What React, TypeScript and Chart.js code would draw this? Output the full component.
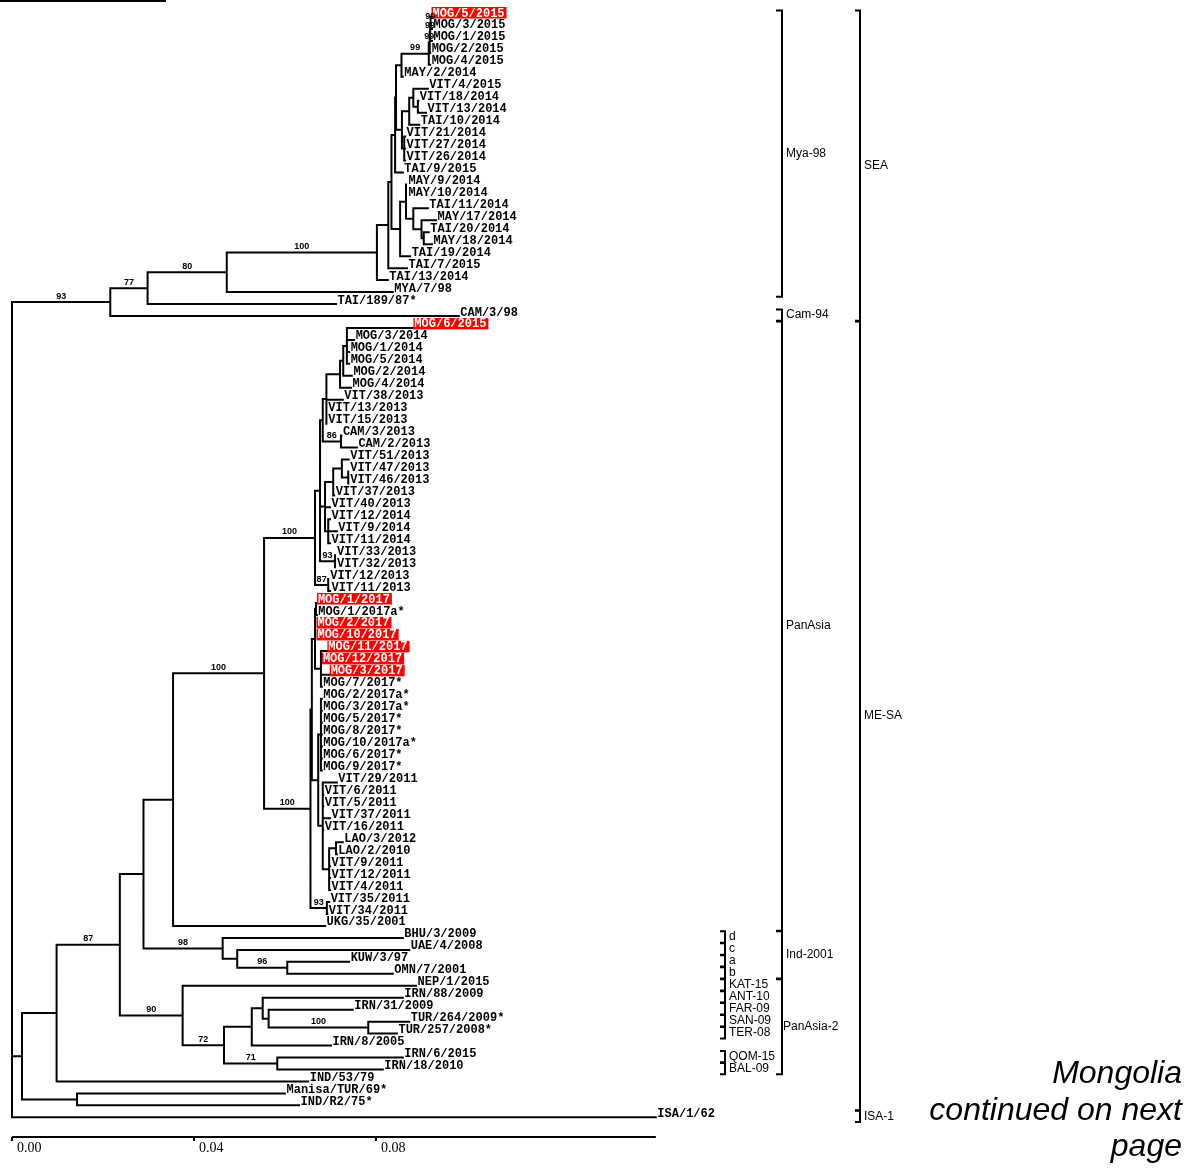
import React, { useEffect, useRef } from 'react';
import { Chart, registerables } from 'chart.js';

Chart.register(...registerables);

// ---------------- data ----------------
const leafNames: string[] = [
  'MOG/5/2015', 'MOG/3/2015', 'MOG/1/2015', 'MOG/2/2015', 'MOG/4/2015', 'MAY/2/2014', 'VIT/4/2015', 'VIT/18/2014', 'VIT/13/2014', 'TAI/10/2014',
  'VIT/21/2014', 'VIT/27/2014', 'VIT/26/2014', 'TAI/9/2015', 'MAY/9/2014', 'MAY/10/2014', 'TAI/11/2014', 'MAY/17/2014', 'TAI/20/2014', 'MAY/18/2014',
  'TAI/19/2014', 'TAI/7/2015', 'TAI/13/2014', 'MYA/7/98', 'TAI/189/87*', 'CAM/3/98', 'MOG/6/2015', 'MOG/3/2014', 'MOG/1/2014', 'MOG/5/2014',
  'MOG/2/2014', 'MOG/4/2014', 'VIT/38/2013', 'VIT/13/2013', 'VIT/15/2013', 'CAM/3/2013', 'CAM/2/2013', 'VIT/51/2013', 'VIT/47/2013', 'VIT/46/2013',
  'VIT/37/2013', 'VIT/40/2013', 'VIT/12/2014', 'VIT/9/2014', 'VIT/11/2014', 'VIT/33/2013', 'VIT/32/2013', 'VIT/12/2013', 'VIT/11/2013', 'MOG/1/2017',
  'MOG/1/2017a*', 'MOG/2/2017', 'MOG/10/2017', 'MOG/11/2017', 'MOG/12/2017', 'MOG/3/2017', 'MOG/7/2017*', 'MOG/2/2017a*', 'MOG/3/2017a*', 'MOG/5/2017*',
  'MOG/8/2017*', 'MOG/10/2017a*', 'MOG/6/2017*', 'MOG/9/2017*', 'VIT/29/2011', 'VIT/6/2011', 'VIT/5/2011', 'VIT/37/2011', 'VIT/16/2011', 'LAO/3/2012',
  'LAO/2/2010', 'VIT/9/2011', 'VIT/12/2011', 'VIT/4/2011', 'VIT/35/2011', 'VIT/34/2011', 'UKG/35/2001', 'BHU/3/2009', 'UAE/4/2008', 'KUW/3/97',
  'OMN/7/2001', 'NEP/1/2015', 'IRN/88/2009', 'IRN/31/2009', 'TUR/264/2009*', 'TUR/257/2008*', 'IRN/8/2005', 'IRN/6/2015', 'IRN/18/2010', 'IND/53/79',
  'Manisa/TUR/69*', 'IND/R2/75*', 'ISA/1/62',
];

// distance from the root to each leaf tip
const leafDistances: number[] = [
  0.0921, 0.0923, 0.0923, 0.0919, 0.0919, 0.0859, 0.0914, 0.0893, 0.0910, 0.0895,
  0.0864, 0.0864, 0.0864, 0.0859, 0.0868, 0.0868, 0.0914, 0.0932, 0.0916, 0.0923,
  0.0875, 0.0868, 0.0826, 0.0837, 0.0712, 0.0982, 0.0881, 0.0752, 0.0741, 0.0741,
  0.0747, 0.0745, 0.0727, 0.0692, 0.0692, 0.0724, 0.0758, 0.0740, 0.0740, 0.0740,
  0.0708, 0.0699, 0.0699, 0.0714, 0.0699, 0.0711, 0.0711, 0.0696, 0.0699, 0.0669,
  0.0670, 0.0668, 0.0668, 0.0692, 0.0680, 0.0697, 0.0681, 0.0681, 0.0681, 0.0681,
  0.0681, 0.0681, 0.0681, 0.0681, 0.0714, 0.0684, 0.0684, 0.0699, 0.0684, 0.0727,
  0.0714, 0.0699, 0.0699, 0.0699, 0.0697, 0.0693, 0.0688, 0.0859, 0.0873, 0.0741,
  0.0837, 0.0888, 0.0859, 0.0749, 0.0873, 0.0846, 0.0701, 0.0859, 0.0815, 0.0651,
  0.0600, 0.0631, 0.1415,
];

const highlightedLeaves: string[] = [
  'MOG/5/2015', 'MOG/6/2015', 'MOG/1/2017', 'MOG/2/2017', 'MOG/10/2017', 'MOG/11/2017', 'MOG/12/2017', 'MOG/3/2017',
];

// internal nodes: [id, distance from root, bootstrap, children (leaf index or node id)]
type NodeRow = [string, number, string, (number | string)[]];
const internalNodes: NodeRow[] = [
  ['root', 0, '', ['n93', 'n22', 92]],
  ['n93', 0.0216, '93', ['n77', 25]],
  ['n77', 0.0298, '77', ['n80', 24]],
  ['n80', 0.0472, '80', ['n376', 23]],
  ['n376', 0.0802, '100', ['nA388', 22]],
  ['nA388', 0.0827, '', ['nA', 21]],
  ['nA', 0.0834, '', ['nH', 'nC']],
  ['nH', 0.0842, '', ['nJ', 13]],
  ['nJ', 0.0844, '', ['nMAY', 'nK']],
  ['nMAY', 0.0856, '', ['nMOG4', 5]],
  ['nMOG4', 0.0916, '99', ['nMOG3', 4]],
  ['nMOG3', 0.0918, '99', ['nMOG2', 3]],
  ['nMOG2', 0.0919, '99', ['nMOG1', 2]],
  ['nMOG1', 0.0920, '99', [0, 1]],
  ['nK', 0.0857, '', ['n409', 'nVIT']],
  ['n409', 0.0873, '', ['n413', 9]],
  ['n413', 0.0882, '', [6, 'n419']],
  ['n419', 0.0892, '', [7, 8]],
  ['nVIT', 0.0862, '', [10, 11, 12]],
  ['nC', 0.0853, '', ['nD', 20]],
  ['nD', 0.0866, '', [14, 15, 'nE']],
  ['nE', 0.0882, '', [16, 'nF']],
  ['nF', 0.0900, '', [17, 'nG']],
  ['nG', 0.0905, '', [18, 19]],
  ['n22', 0.0022, '', ['n87a', 'nM']],
  ['nM', 0.0143, '', [90, 91]],
  ['n87a', 0.0098, '', ['n120', 89]],
  ['n120', 0.0237, '87', ['n143', 'n90']],
  ['n143', 0.0289, '', ['n173', 'n98']],
  ['n98', 0.0463, '98', [77, 'n237']],
  ['n237', 0.0495, '', [78, 'n96']],
  ['n96', 0.0605, '96', [79, 80]],
  ['n90', 0.0375, '90', [81, 'n72']],
  ['n72', 0.0466, '72', ['n251', 'n71']],
  ['n251', 0.0527, '', ['n262', 86]],
  ['n262', 0.0551, '', [82, 'n268']],
  ['n268', 0.0564, '', [83, 'n100t']],
  ['n100t', 0.0783, '100', [84, 85]],
  ['n71', 0.0583, '71', [87, 88]],
  ['n173', 0.0354, '', ['n264', 76]],
  ['n264', 0.0554, '100', ['n315', 'n310']],
  ['n315', 0.0666, '100', ['nP', 'n87b']],
  ['n87b', 0.0695, '87', [47, 48]],
  ['nP', 0.0677, '', ['nU', 'nW', 'n93b']],
  ['n93b', 0.0710, '93', [45, 46]],
  ['nU', 0.0683, '', ['nV1', 'n86']],
  ['nV1', 0.0691, '', ['nM3', 32, 33, 34]],
  ['nM3', 0.0721, '', ['nM2', 31]],
  ['nM2', 0.0728, '', ['nM1', 30]],
  ['nM1', 0.0736, '', [26, 27, 28, 29]],
  ['n86', 0.0723, '86', [35, 36]],
  ['nW', 0.0688, '', ['nW3', 41, 'nW4']],
  ['nW3', 0.0706, '', ['nW2', 40]],
  ['nW2', 0.0725, '', [37, 'nW1']],
  ['nW1', 0.0739, '', [38, 39]],
  ['nW4', 0.0695, '', [42, 43, 44]],
  ['n310', 0.0656, '100', ['nK1', 'n93c']],
  ['n93c', 0.0692, '93', [74, 75]],
  ['nK1', 0.0659, '', ['nY', 'nZp']],
  ['nY', 0.0666, '', ['nYa', 51, 52, 'nY2']],
  ['nYa', 0.0668, '', [49, 50]],
  ['nY2', 0.0679, '', [53, 54, 55, 56]],
  ['nZp', 0.0673, '', ['nY3', 'nZ1']],
  ['nY3', 0.0679, '', [57, 58, 59, 60, 61, 62, 63]],
  ['nZ1', 0.0683, '', [64, 65, 66, 67, 68, 'nZ2']],
  ['nZ2', 0.0697, '', ['nLAO', 71, 72, 73]],
  ['nLAO', 0.0712, '', [69, 70]],
];

const scaleTicks: number[] = [0, 0.04, 0.08];
const scaleBarEnd = 0.1415;

// clade brackets: name, first leaf, last leaf
const cladeNames: string[] = ['Mya-98', 'Cam-94', 'PanAsia', 'Ind-2001', 'PanAsia-2'];
const cladeFirst: number[] = [0, 25, 26, 77, 81];
const cladeLast: number[] = [23, 25, 76, 80, 88];

const lineageNames: string[] = ['SEA', 'ME-SA', 'ISA-1'];
const lineageFirst: number[] = [0, 26, 92];
const lineageLast: number[] = [25, 91, 92];

const subLineageNames: string[] = ['d', 'c', 'a', 'b', 'KAT-15', 'ANT-10', 'FAR-09', 'SAN-09', 'TER-08', 'QOM-15', 'BAL-09'];
const subLineageLeaf: number[] = [77, 78, 79, 80, 81, 82, 83, 84, 85, 87, 88];

const noteLines: string[] = ['Mongolia', 'continued on next', 'page'];

// ---------------- layout ----------------
const W = 1191;
const H = 1175;
const ROW_PX = 11.96;
const FIRST_ROW_PX = 17;
const PLOT_BOTTOM = 1137;
const ORIGIN_PX = 12;
const PX_PER_UNIT = 4550;

const Y_MIN = -FIRST_ROW_PX / ROW_PX;
const Y_MAX = Y_MIN + PLOT_BOTTOM / ROW_PX;
const X_MIN = -ORIGIN_PX / PX_PER_UNIT;
const X_MAX = X_MIN + W / PX_PER_UNIT;

const LABEL_FONT = 'bold 12px "Liberation Mono", "Courier New", monospace';
const SUPPORT_FONT = 'bold 9px "Liberation Sans", Arial, sans-serif';
const CLADE_FONT = '12px "Liberation Sans", Arial, sans-serif';
const NOTE_FONT = 'italic 32px "Liberation Sans", Arial, sans-serif';

export default function App() {
  const canvasRef = useRef<HTMLCanvasElement>(null);

  useEffect(() => {
    document.body.style.margin = '0';
    document.body.style.overflow = 'hidden';
    const canvas = canvasRef.current;
    if (!canvas) return;

    const nodeMap = new Map<string, NodeRow>();
    internalNodes.forEach((r) => nodeMap.set(r[0], r));
    const parentOf = new Map<string, string>();
    internalNodes.forEach((r) =>
      r[3].forEach((c) => {
        if (typeof c === 'string') parentOf.set(c, r[0]);
      })
    );
    const distOf = (ref: number | string): number =>
      typeof ref === 'number' ? leafDistances[ref] : nodeMap.get(ref)![1];
    const rowCache = new Map<string, number>();
    const rowOf = (ref: number | string): number => {
      if (typeof ref === 'number') return ref;
      if (rowCache.has(ref)) return rowCache.get(ref)!;
      const kids = nodeMap.get(ref)![3];
      const v = (rowOf(kids[0]) + rowOf(kids[kids.length - 1])) / 2;
      rowCache.set(ref, v);
      return v;
    };

    const treePoints: { x: number; y: number | null }[] = [];
    internalNodes.forEach(([, d, , kids]) => {
      const rows = kids.map(rowOf);
      treePoints.push({ x: d, y: Math.min(...rows) }, { x: d, y: Math.max(...rows) }, { x: d, y: null });
      kids.forEach((k, i) => {
        treePoints.push({ x: d, y: rows[i] }, { x: distOf(k), y: rows[i] }, { x: d, y: null });
      });
    });

    const textPlugin = {
      id: 'treeText',
      afterDatasetsDraw(chart: any) {
        const ctx: CanvasRenderingContext2D = chart.ctx;
        const xs = chart.scales.x;
        const ys = chart.scales.y;
        ctx.save();

        // stray rule at top-left
        ctx.fillStyle = '#000';
        ctx.fillRect(0, 0, 166, 2);

        // leaf labels
        ctx.font = LABEL_FONT;
        ctx.textAlign = 'left';
        ctx.textBaseline = 'alphabetic';
        leafNames.forEach((name, i) => {
          const px = xs.getPixelForValue(leafDistances[i]) + 1.5;
          const py = ys.getPixelForValue(i);
          const w = ctx.measureText(name).width;
          if (highlightedLeaves.includes(name)) {
            ctx.fillStyle = '#ff0000';
            ctx.fillRect(px - 1, py - 10, w + 3, 11.5);
            ctx.fillStyle = '#ffffff';
          } else {
            ctx.fillStyle = '#000000';
          }
          ctx.fillText(name, px, py - 0.5);
        });

        // bootstrap values
        ctx.font = SUPPORT_FONT;
        ctx.fillStyle = '#000';
        ctx.textAlign = 'center';
        ctx.textBaseline = 'bottom';
        internalNodes.forEach(([id, d, support]) => {
          if (!support) return;
          const p = parentOf.get(id);
          const pd = p ? nodeMap.get(p)![1] : 0;
          const cx = (xs.getPixelForValue(pd) + xs.getPixelForValue(d)) / 2;
          const cy = ys.getPixelForValue(rowOf(id)) - 1.5;
          ctx.fillText(support, cx, cy);
        });

        // brackets
        ctx.strokeStyle = '#000';
        ctx.lineWidth = 2;
        ctx.lineCap = 'square';
        const bracket = (x: number, tick: number, first: number, last: number) => {
          const top = ys.getPixelForValue(first - 0.55);
          const bot = ys.getPixelForValue(last + 0.4);
          ctx.beginPath();
          ctx.moveTo(x - tick, top);
          ctx.lineTo(x, top);
          ctx.lineTo(x, bot);
          ctx.lineTo(x - tick, bot);
          ctx.stroke();
          return (top + bot) / 2;
        };
        ctx.font = CLADE_FONT;
        ctx.textAlign = 'left';
        ctx.textBaseline = 'middle';
        cladeNames.forEach((n, i) => {
          const mid = bracket(782, 5, cladeFirst[i], cladeLast[i]);
          ctx.fillText(n, n === 'PanAsia-2' ? 783 : 786, mid);
        });
        lineageNames.forEach((n, i) => {
          const mid = bracket(860, 4, lineageFirst[i], lineageLast[i]);
          ctx.fillText(n, 864, mid);
        });
        subLineageNames.forEach((n, i) => {
          const mid = bracket(725, 4, subLineageLeaf[i], subLineageLeaf[i]);
          ctx.fillText(n, 729, mid);
        });

        // page note
        ctx.font = NOTE_FONT;
        ctx.textAlign = 'right';
        ctx.textBaseline = 'alphabetic';
        noteLines.forEach((t, i) => ctx.fillText(t, 1182, 1083 + i * 36.5));

        ctx.restore();
      },
    };

    const chart = new Chart(canvas, {
      type: 'scatter',
      data: {
        datasets: [
          {
            data: treePoints as any,
            showLine: true,
            spanGaps: false,
            borderColor: '#000',
            borderWidth: 2,
            borderCapStyle: 'square',
            borderJoinStyle: 'miter',
            pointRadius: 0,
            tension: 0,
            clip: false as any,
          },
          {
            data: [
              { x: 0, y: Y_MAX },
              { x: scaleBarEnd, y: Y_MAX },
            ],
            showLine: true,
            borderColor: '#000',
            borderWidth: 2,
            pointRadius: 0,
            clip: false as any,
          },
        ],
      },
      options: {
        animation: false,
        responsive: true,
        maintainAspectRatio: false,
        events: [],
        layout: { padding: 0 },
        plugins: { legend: { display: false }, tooltip: { enabled: false }, title: { display: false } },
        scales: {
          x: {
            type: 'linear',
            min: X_MIN,
            max: X_MAX,
            afterFit: (s: any) => {
              s.height = H - PLOT_BOTTOM;
            },
            afterBuildTicks: (s: any) => {
              s.ticks = scaleTicks.map((v) => ({ value: v }));
            },
            border: { display: false },
            grid: {
              display: true,
              drawOnChartArea: false,
              drawTicks: true,
              tickLength: 4,
              color: '#000',
              lineWidth: 2,
            },
            ticks: {
              autoSkip: false,
              maxRotation: 0,
              align: 'start',
              labelOffset: 5,
              padding: -1,
              color: '#000',
              font: { family: '"Liberation Serif", "Times New Roman", serif', size: 14 },
              callback: (v: any) => Number(v).toFixed(2),
            },
          },
          y: {
            type: 'linear',
            display: false,
            reverse: true,
            min: Y_MIN,
            max: Y_MAX,
          },
        },
      },
      plugins: [textPlugin],
    });

    return () => chart.destroy();
  }, []);

  return (
    <div style={{ position: 'absolute', left: 0, top: 0, width: W, height: H, background: '#fff' }}>
      <canvas ref={canvasRef} />
    </div>
  );
}
